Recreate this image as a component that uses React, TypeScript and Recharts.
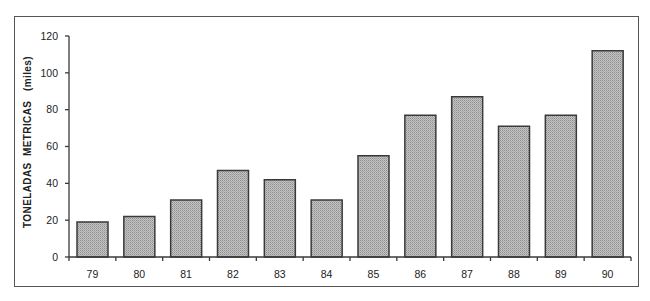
import React from 'react';
import { BarChart, Bar, XAxis, YAxis, Label } from 'recharts';

const years = ['79', '80', '81', '82', '83', '84', '85', '86', '87', '88', '89', '90'];
const tonnes = [19, 22, 31, 47, 42, 31, 55, 77, 87, 71, 77, 112];
const yTicks = [0, 20, 40, 60, 80, 100, 120];
const xTicks = [
  0, 0.5, 1, 1.5, 2, 2.5, 3, 3.5, 4, 4.5, 5, 5.5, 6, 6.5, 7, 7.5, 8, 8.5, 9, 9.5, 10, 10.5, 11, 11.5, 12,
];

const data = years.map((y, i) => ({ year: y, pos: i + 0.5, value: tonnes[i] }));

const FONT = '"Liberation Sans", Arial, Helvetica, sans-serif';
const AXIS = '#3a3a3a';

const XTick = (props: any) => {
  const { x, y, payload } = props;
  const v = payload.value as number;
  if (Number.isInteger(v)) {
    return <line x1={x} x2={x} y1={y} y2={y + 4} stroke={AXIS} strokeWidth={1.3} />;
  }
  return (
    <text x={x} y={y + 21} textAnchor="middle" fontFamily={FONT} fontSize={10.5} fill="#222">
      {years[Math.floor(v)]}
    </text>
  );
};

export default function App() {
  return (
    <div style={{ position: 'absolute', left: 0, top: 0, width: 650, height: 301, background: '#fff' }}>
      <div
        style={{
          position: 'absolute',
          left: 14,
          top: 16,
          width: 623,
          height: 269,
          border: '1.5px solid #555',
        }}
      />
      <div style={{ position: 'absolute', left: 0, top: 0 }}>
        <BarChart
          width={650}
          height={301}
          data={data}
          margin={{ top: 36, right: 19, bottom: 14, left: 14 }}
        >
          <defs>
            <pattern id="stip" width="2" height="2" patternUnits="userSpaceOnUse">
              <rect width="2" height="2" fill="#c4c4c4" />
              <rect width="1" height="1" fill="#8e8e8e" />
              <rect x="1" y="1" width="1" height="1" fill="#a6a6a6" />
            </pattern>
          </defs>
          <XAxis
            xAxisId="grid"
            type="number"
            dataKey="pos"
            domain={[0, 12]}
            ticks={xTicks}
            interval={0}
            allowDataOverflow
            height={30}
            tickSize={0}
            tickMargin={0}
            tickLine={false}
            axisLine={{ stroke: AXIS, strokeWidth: 1.3 }}
            tick={<XTick />}
          />
          <XAxis xAxisId="cat" dataKey="year" hide height={0} />
          <YAxis
            width={55}
            domain={[0, 120]}
            ticks={yTicks}
            interval={0}
            tickSize={4}
            tickMargin={7}
            axisLine={{ stroke: AXIS, strokeWidth: 1.3 }}
            tickLine={{ stroke: AXIS, strokeWidth: 1.3 }}
            tick={{ fill: '#222', fontSize: 10.5, fontFamily: FONT }}
          >
            <Label
              content={() => (
                <text
                  x={31}
                  y={142}
                  transform="rotate(-90 31 142)"
                  textAnchor="middle"
                  fontFamily={FONT}
                  fontWeight="bold"
                  fontSize={10}
                  fill="#222"
                  letterSpacing={0.4}
                  style={{ whiteSpace: 'pre' }}
                >
                  {'TONELADAS  METRICAS   (miles)'}
                </text>
              )}
            />
          </YAxis>
          <Bar
            xAxisId="cat"
            dataKey="value"
            barSize={31}
            fill="url(#stip)"
            stroke="#3a3a3a"
            strokeWidth={1.5}
            isAnimationActive={false}
          />
        </BarChart>
      </div>
    </div>
  );
}
